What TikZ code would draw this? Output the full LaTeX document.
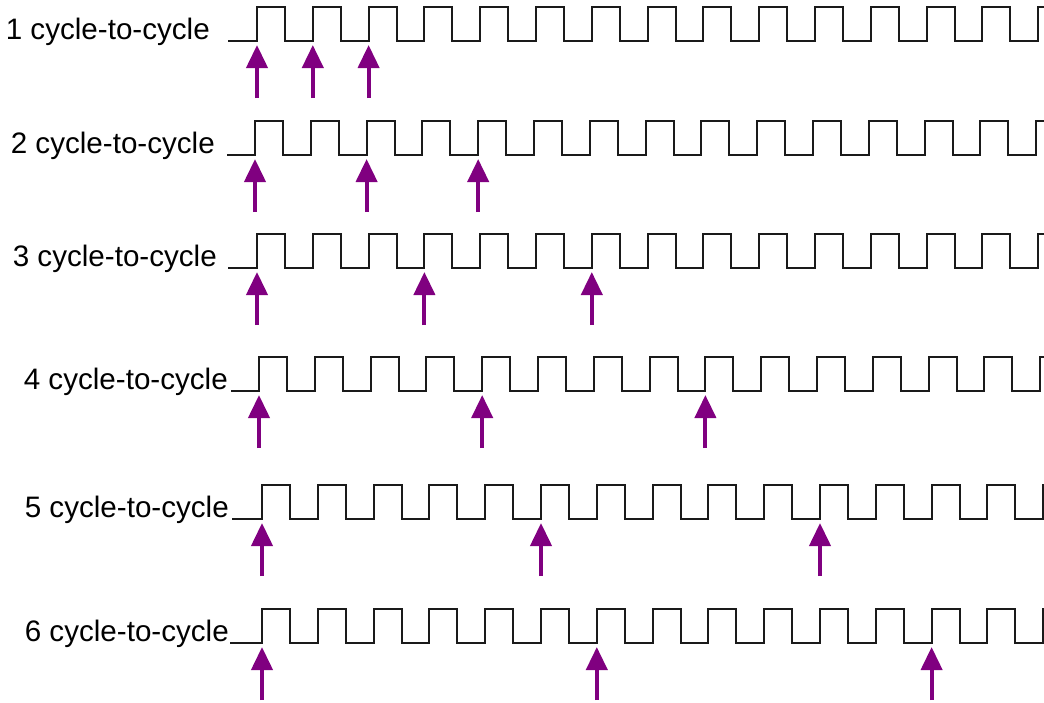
\documentclass[tikz,border=0pt]{standalone}
\usepackage{fontspec}
\setmainfont{Liberation Sans}
\usetikzlibrary{arrows.meta}

\definecolor{pulsepurple}{RGB}{128,0,128}
\definecolor{waveblack}{RGB}{26,26,26}

\begin{document}
\begin{tikzpicture}[x=1pt,y=-1pt,font=\fontsize{29.6}{33}\selectfont,
  wave/.style={draw=waveblack,line width=2pt},
  pulse/.style={draw=pulsepurple,line width=4pt,-{Triangle[length=23pt,width=21pt]}}]
\useasboundingbox (0,0) rectangle (1044,702);
\clip (0,0) rectangle (1044,702);
% row / baseline / wave start / first rising edge / label right
\foreach \n/\y/\s/\r/\lx in {1/41/228/257/210,2/155/227/255/215,3/268/228/257/217,
                             4/391/231/259/228,5/519/232/262/229,6/643/230/262/229}{
  \node[anchor=base east,inner sep=0pt] (lbl\n) at (\lx,\y-2) {\n\ cycle-to-cycle};
  \draw[wave] (\s,\y) -- (\r,\y)
    \foreach \k in {0,...,14}{ -- ++(0,-34) -- ++(28,0) -- ++(0,34) -- ++(27.8,0) };
  \foreach \j in {0,1,2}{
    \pgfmathsetmacro{\ax}{\r+\n*\j*55.8}
    \coordinate (tip\n\j) at (\ax,\y+4);
    \coordinate (tail\n\j) at (\ax,\y+57);
    \draw[pulse] (tail\n\j) -- (tip\n\j);
  }
}
\end{tikzpicture}
\end{document}
